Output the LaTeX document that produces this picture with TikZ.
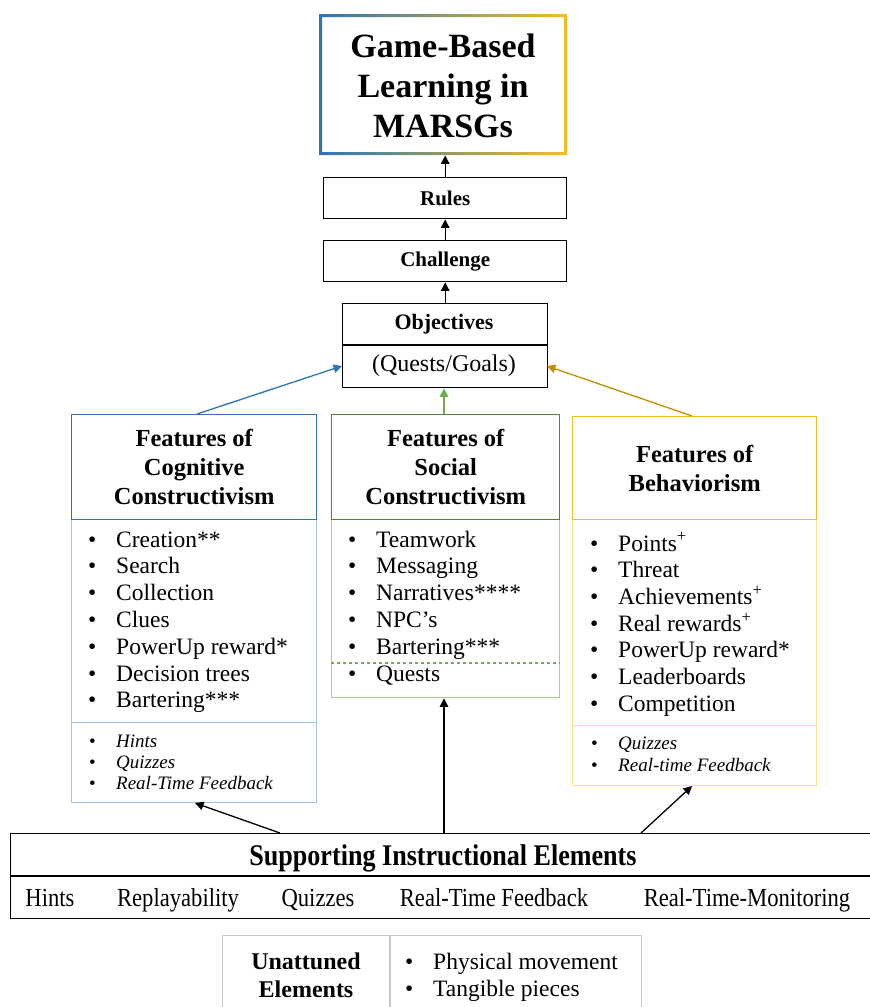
\documentclass[tikz,border=0pt]{standalone}
\usepackage{fontspec}
\setmainfont{Liberation Serif}
\newfontfamily\narrowfont[FakeStretch=0.87]{Liberation Serif}
\usetikzlibrary{arrows.meta}
\definecolor{cblue}{HTML}{2E75B6}
\definecolor{cbluel}{HTML}{9DC3E6}
\definecolor{cgreen}{HTML}{548235}
\definecolor{cgreenl}{HTML}{A9D18E}
\definecolor{cgreend}{HTML}{70AD47}
\definecolor{cgold}{HTML}{F2BE1A}
\definecolor{cgoldl}{HTML}{FFE28A}
\definecolor{cgoldd}{HTML}{BF9000}
\definecolor{cgray}{HTML}{C8C8C8}
\begin{document}
\begin{tikzpicture}[x=1pt,y=-1pt,
  arr/.style={-{Triangle[width=8.5pt,length=8.5pt]}, line width=1.3pt},
  frame/.style={draw, line width=1.4pt, inner sep=0pt, anchor=north west},
  hdr/.style={font=\fontsize{24.5}{29}\selectfont\bfseries, align=center},
  itm/.style={font=\fontsize{23.5}{27}\selectfont, anchor=base west, inner sep=0pt},
  itl/.style={font=\fontsize{19}{21}\selectfont\itshape, anchor=base west, inner sep=0pt},
  sml/.style={font=\fontsize{24}{28}\selectfont, inner sep=0pt},
  supitem/.style={font=\narrowfont\fontsize{26}{30}\selectfont, anchor=base, inner sep=0pt}]
\useasboundingbox (0,0) rectangle (870,1007);
\clip (0,0) rectangle (870,1007);
\fill[white] (0,0) rectangle (870,1007);

% top title box with gradient border
\node[inner sep=0pt, minimum width=248pt, minimum height=141pt, anchor=north west] (top) at (319,14) {};
\shade[even odd rule, left color=cblue, middle color=cgreen, right color=cgold]
  (319,14) rectangle (567,155) (322,17) rectangle (564,152);
\node[font=\fontsize{34}{40}\selectfont\bfseries, align=center] (toptext) at (443,86) {Game-Based\\Learning in\\MARSGs};

% Rules, Challenge, Objectives
\node[frame, minimum width=243pt, minimum height=41pt, font=\fontsize{21}{25}\selectfont\bfseries] (rules) at (323,177) {Rules};
\node[frame, minimum width=243pt, minimum height=41pt, font=\fontsize{21}{25}\selectfont\bfseries] (chal) at (323,240) {Challenge};
\node[frame, minimum width=205pt, minimum height=84pt] (obj) at (342,303) {};
\draw[line width=1.4pt] (342,345) -- (547,345);
\node[sml, font=\fontsize{22}{26}\selectfont\bfseries] (objt) at (444,324) {Objectives};
\node[sml] (objq) at (444,366) {(Quests/Goals)};
\coordinate (objw) at (342,366);
\coordinate (obje) at (547,366);

\draw[arr] (rules.north) -- (rules.north |- top.south);
\draw[arr] (chal.north) -- (rules.south);
\draw[arr] (obj.north) -- (obj.north |- chal.south);

% Cognitive
\node[frame, draw=cbluel, minimum width=245pt, minimum height=203pt] (cogl) at (71,519) {};
\node[frame, draw=cbluel, minimum width=245pt, minimum height=80pt] (cogi) at (71,722) {};
\node[frame, draw=cblue, minimum width=245pt, minimum height=105pt, hdr] (cogh) at (71,414) {Features of\\Cognitive\\Constructivism};
\foreach [count=\i] \t in {Creation**, Search, Collection, Clues, PowerUp reward*, Decision trees, Bartering***}
  \node[itm] (cog\i) at (88,{547+26.8*(\i-1)}) {\makebox[28pt][l]{\textbullet}\t};
\foreach [count=\i] \t in {Hints, Quizzes, Real-Time Feedback}
  \node[itl] (cogit\i) at (89,{747+21*(\i-1)}) {\makebox[27pt][l]{\upshape\textbullet}\t};

% Social
\node[frame, draw=cgreenl, minimum width=228pt, minimum height=178pt] (socl) at (331,519) {};
\node[frame, draw=cgreen, minimum width=228pt, minimum height=105pt, hdr] (soch) at (331,414) {Features of\\Social\\Constructivism};
\draw[cgreend, dashed, line width=1.2pt] (socl.west |- 0,663) -- (socl.east |- 0,663);
\foreach [count=\i] \t in {Teamwork, Messaging, Narratives****, NPC’s, Bartering***, Quests}
  \node[itm] (soc\i) at (348,{547+26.8*(\i-1)}) {\makebox[28pt][l]{\textbullet}\t};

% Behaviorism
\node[frame, draw=cgoldl, minimum width=244pt, minimum height=206pt] (behl) at (572,519) {};
\node[frame, draw=cgoldl, minimum width=244pt, minimum height=60pt] (behi) at (572,725) {};
\node[frame, draw=cgold, minimum width=244pt, minimum height=103pt, hdr] (behh) at (572,416) {Features of\\Behaviorism};
\foreach [count=\i] \t in {Points\textsuperscript{+}, Threat, Achievements\textsuperscript{+}, Real rewards\textsuperscript{+}, PowerUp reward*, Leaderboards, Competition}
  \node[itm] (beh\i) at (590,{551+26.7*(\i-1)}) {\makebox[28pt][l]{\textbullet}\t};
\foreach [count=\i] \t in {Quizzes, Real-time Feedback}
  \node[itl] (behit\i) at (591,{749+22*(\i-1)}) {\makebox[27pt][l]{\upshape\textbullet}\t};

% arrows into objectives
\coordinate (cogtop) at (197,414);
\draw[arr, cblue] (cogtop) -- (objw);
\coordinate (soctop) at (444,414);
\draw[arr, cgreend] (soctop) -- (soctop |- obj.south);
\coordinate (behtop) at (692,416);
\draw[arr, cgoldd] (behtop) -- (obje);

% Supporting
\node[frame, minimum width=880pt, minimum height=85pt] (sup) at (10,833) {};
\draw[line width=1.4pt] (10,876) -- (890,876);
\node[font=\narrowfont\fontsize{30}{32}\selectfont\bfseries, anchor=base, inner sep=0pt] (supt) at (443,865) {Supporting Instructional Elements};
\node[supitem] (s1) at (50,906) {Hints};
\node[supitem] (s2) at (178,906) {Replayability};
\node[supitem] (s3) at (318,906) {Quizzes};
\node[supitem] (s4) at (494,906) {Real-Time Feedback};
\node[supitem] (s5) at (747,906) {Real-Time-Monitoring};

\coordinate (supa) at (280,833);
\coordinate (supb) at (444,833);
\coordinate (supc) at (641,833);
\coordinate (cogb) at (195,803);
\coordinate (behb) at (692,786);
\draw[arr] (supa) -- (cogb);
\draw[arr] (supb) -- (supb |- socl.south);
\draw[arr] (supc) -- (behb);

% Unattuned
\node[frame, draw=cgray, minimum width=419pt, minimum height=90pt] (un) at (222,935) {};
\draw[cgray, line width=1.4pt] (390,935) -- (390,1030);
\node[font=\fontsize{24}{28}\selectfont\bfseries, align=center] (unt) at (306,975) {Unattuned\\Elements};
\node[itm] (u1) at (405,969) {\makebox[28pt][l]{\textbullet}Physical movement};
\node[itm] (u2) at (405,996) {\makebox[28pt][l]{\textbullet}Tangible pieces};
\end{tikzpicture}
\end{document}
